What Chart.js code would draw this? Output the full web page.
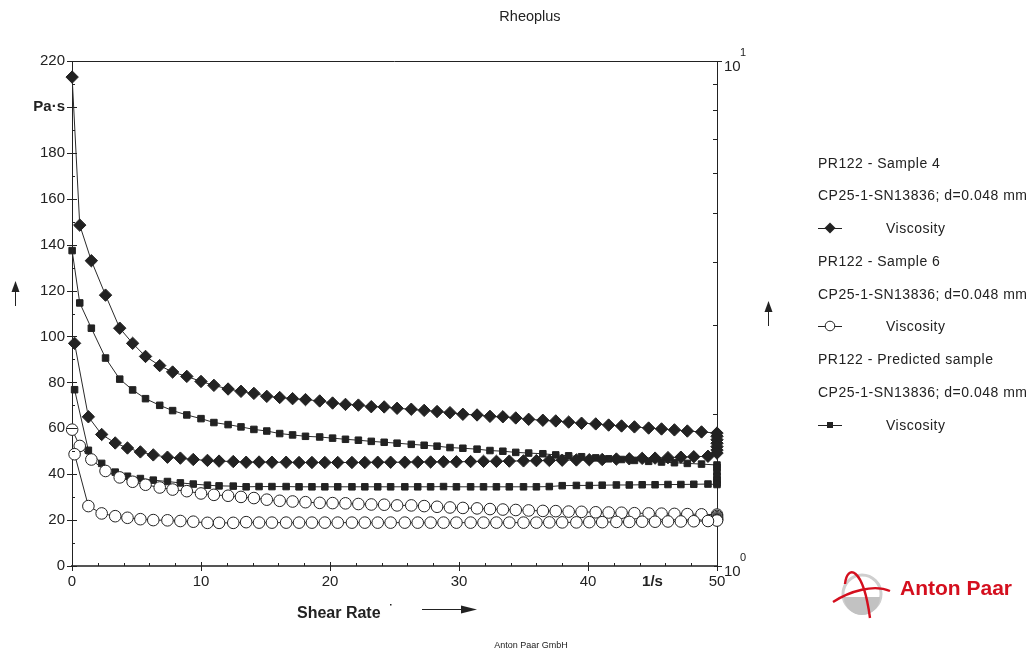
<!DOCTYPE html>
<html><head><meta charset="utf-8">
<script src="https://cdn.jsdelivr.net/npm/chart.js@4.4.1/dist/chart.umd.min.js"></script>
<style>
html,body{margin:0;padding:0;background:#fff;}
#wrap{position:relative;width:1033px;height:655px;overflow:hidden;font-family:"Liberation Sans",Arial,sans-serif;color:#222;}
#c{position:absolute;left:0;top:0;}
.t{position:absolute;white-space:nowrap;line-height:16px;}
.lg{font-size:14px;letter-spacing:0.5px;left:818px;}
</style></head><body>
<div id="wrap">
<canvas id="c" width="1033" height="655"></canvas>
<div class="t" style="left:480px;width:100px;text-align:center;top:8px;font-size:14.5px">Rheoplus</div>
<div id="legend"></div>
<div class="t" style="left:480px;width:102px;text-align:center;top:640px;font-size:9px;line-height:10px">Anton Paar GmbH</div>
<svg style="position:absolute;left:830px;top:560px" width="66" height="62" viewBox="0 0 66 62">
  <circle cx="32" cy="34" r="19" fill="none" stroke="#cfcfcf" stroke-width="3"/>
  <path d="M14 37 A18 18 0 0 0 50 37 Z" fill="#c2c2c2"/>
  <path d="M3 42 C 20 31, 44 24, 60 31" fill="none" stroke="#d40f1e" stroke-width="2.4"/>
  <path d="M15 24 C 17 4, 33 6, 40 58" fill="none" stroke="#d40f1e" stroke-width="2.4"/>
</svg>
<div class="t" style="left:900px;top:576px;font-size:21px;line-height:24px;font-weight:bold;color:#d40f1e">Anton Paar</div>
</div>
<script>
// ---- data ----
const shearUp = [0.01,0.6,1.5,2.6,3.7,4.7,5.7,6.8,7.8,8.9,
  10.0,11.0,12.1,13.1,14.1,15.1,16.1,17.1,18.1,19.2,
  20.2,21.2,22.2,23.2,24.2,25.2,26.3,27.3,28.3,29.3,
  30.3,31.4,32.4,33.4,34.4,35.4,36.5,37.5,38.5,39.5,
  40.6,41.6,42.6,43.6,44.7,45.7,46.7,47.7,48.8,50.0];
const shearDown = [50,50,50,50,50,50,
  49.3,48.2,47.2,46.2,45.2,44.2,43.2,42.2,41.1,40.1,
  39.1,38.0,37.0,36.0,35.0,33.9,32.9,31.9,30.9,
  29.8,28.8,27.8,26.8,25.8,24.7,23.7,22.7,21.7,20.6,
  19.6,18.6,17.6,16.6,15.5,14.5,13.5,12.5,11.4,10.5,
  9.4,8.4,7.4,6.3,5.3,4.3,3.35,2.3,1.27,0.2];

const sample4Up = [213,148.5,133,118,103.6,97,91.3,87.3,84.5,82.6,
  80.4,78.7,77.1,76.1,75.2,73.9,73.4,72.9,72.5,71.9,
  71.0,70.4,70.1,69.4,69.3,68.7,68.3,67.8,67.3,66.8,
  66.1,65.8,65.2,65.0,64.5,63.9,63.5,63.2,62.7,62.2,
  61.9,61.4,61.0,60.6,60.1,59.7,59.3,58.8,58.4,57.9];
const sample4Down = [56.5,55,53.5,52,50.5,49.2,
  47.8,47.6,47.4,47.2,47.0,46.9,46.7,46.6,46.4,46.3,
  46.2,46.1,46.0,45.9,45.8,45.7,45.6,45.6,45.5,
  45.4,45.4,45.3,45.3,45.2,45.2,45.2,45.1,45.1,45.1,
  45.1,45.1,45.1,45.2,45.2,45.3,45.2,45.5,45.7,46.0,
  46.4,47.0,47.4,48.4,49.7,51.4,53.6,57.3,65.0,97.0];

const sample6Up = [59.4,52.3,46.4,41.4,38.6,36.7,35.4,34.2,33.3,32.6,
  31.6,31.0,30.6,30.1,29.6,28.9,28.4,28.1,27.8,27.5,
  27.4,27.3,27.0,26.8,26.7,26.4,26.4,26.1,25.8,25.5,
  25.3,25.1,24.8,24.6,24.4,24.2,24.0,23.9,23.7,23.6,
  23.4,23.3,23.2,23.0,22.9,22.8,22.7,22.6,22.5,22.4];
const sample6Down = [21.8,21.2,20.7,20.3,20.0,19.8,
  19.6,19.5,19.4,19.4,19.3,19.3,19.2,19.2,19.1,19.1,
  19.0,19.0,19.0,18.9,18.9,18.9,18.9,18.9,18.9,
  18.9,18.9,18.9,18.9,18.9,18.9,18.9,18.9,18.9,18.9,
  18.9,18.9,18.9,18.9,18.9,18.9,19.1,18.8,18.8,18.8,
  19.3,19.6,19.9,20.0,20.4,21.0,21.7,22.9,26.1,48.7];

const predictedUp = [137.4,114.6,103.6,90.6,81.4,76.7,72.9,70.0,67.7,65.8,
  64.2,62.5,61.6,60.6,59.5,58.8,57.7,57.1,56.5,56.2,
  55.7,55.2,54.8,54.3,53.9,53.5,53.0,52.6,52.2,51.6,
  51.3,50.9,50.3,50.0,49.5,49.2,48.9,48.4,48.0,47.6,
  47.1,46.7,46.4,46.0,45.6,45.3,45.0,44.7,44.4,44.0];
const predictedDown = [43,41,39,37.5,36.2,35.5,
  35.7,35.6,35.5,35.5,35.4,35.4,35.3,35.3,35.2,35.1,
  35.1,35.0,34.6,34.5,34.5,34.5,34.5,34.5,34.5,
  34.5,34.6,34.5,34.5,34.5,34.5,34.5,34.5,34.5,34.5,
  34.5,34.5,34.5,34.6,34.6,34.6,34.5,34.8,34.9,35.2,
  35.7,36.2,36.8,37.4,38.1,39.1,40.9,44.7,50.4,76.8];

const xTicks = [0,10,20,30,40,45,50];
const xMinorTicks = [2,4,6,8,12,14,16,18,22,24,26,28,32,34,36,38,42,44,46,48];
const yTicks = [0,20,40,60,80,100,120,140,160,180,200,220];
const yMinorTicks = [10,30,50,70,90,110,130,150,170,190,210];
const y2Major = [1,10];
const y2Minor = [2,3,4,5,6,7,8,9];

const legendRows = [
  ['PR122 - Sample 4', null], ['CP25-1-SN13836; d=0.048 mm', null], ['Viscosity', 'diamond'],
  ['PR122 - Sample 6', null], ['CP25-1-SN13836; d=0.048 mm', null], ['Viscosity', 'circle'],
  ['PR122 - Predicted sample', null], ['CP25-1-SN13836; d=0.048 mm', null], ['Viscosity', 'square']
];
const legendY = [163,195,228,261,294,326,359,392,425];

// ---- legend (HTML) ----
const lg = document.getElementById('legend');
legendRows.forEach((r, i) => {
  const cy = legendY[i];
  if (r[1]) {
    let mk = '';
    if (r[1] === 'diamond') mk = '<polygon points="12,1.5 17.5,7 12,12.5 6.5,7" fill="#222"/>';
    if (r[1] === 'circle') mk = '<circle cx="12" cy="7" r="4.8" fill="#fff" stroke="#222" stroke-width="1"/>';
    if (r[1] === 'square') mk = '<rect x="9" y="4" width="6" height="6" fill="#222"/>';
    lg.insertAdjacentHTML('beforeend',
      `<svg style="position:absolute;left:818px;top:${cy-7}px" width="26" height="14"><line x1="0" y1="7.5" x2="24" y2="7.5" stroke="#222" stroke-width="1"/>${mk}</svg>` +
      `<div class="t lg" style="left:886px;top:${cy-8}px">${r[0]}</div>`);
  } else {
    lg.insertAdjacentHTML('beforeend', `<div class="t lg" style="top:${cy-8}px">${r[0]}</div>`);
  }
});

function pts(xs, ys) { return xs.map((x, i) => ({x: x, y: ys[i]})); }

const FONT = '"Liberation Sans", Arial, sans-serif';

const deco = {
  id: 'deco',
  afterDraw(chart) {
    const {ctx, chartArea: a, scales} = chart;
    const x = scales.x, y = scales.y, y2 = scales.y2;
    ctx.save();
    ctx.strokeStyle = '#222'; ctx.lineWidth = 1;
    ctx.beginPath();
    ctx.moveTo(a.left, a.top + 0.5); ctx.lineTo(a.right, a.top + 0.5);
    yTicks.forEach(v => { const p = Math.round(y.getPixelForValue(v)) + 0.5; ctx.moveTo(a.left - 5, p); ctx.lineTo(a.left + 5, p); });
    yMinorTicks.forEach(v => { const p = Math.round(y.getPixelForValue(v)) + 0.5; ctx.moveTo(a.left, p); ctx.lineTo(a.left + 3, p); });
    [0,10,20,30,40,50].forEach(v => { const p = Math.round(x.getPixelForValue(v)) + 0.5; ctx.moveTo(p, a.bottom - 4); ctx.lineTo(p, a.bottom + 5); });
    xMinorTicks.forEach(v => { const p = Math.round(x.getPixelForValue(v)) + 0.5; ctx.moveTo(p, a.bottom - 3); ctx.lineTo(p, a.bottom); });
    y2Major.forEach(v => { const p = Math.round(y2.getPixelForValue(v)) + 0.5; ctx.moveTo(a.right - 3, p); ctx.lineTo(a.right + 5, p); });
    y2Minor.forEach(v => { const p = Math.round(y2.getPixelForValue(v)) + 0.5; ctx.moveTo(a.right - 4, p); ctx.lineTo(a.right, p); });
    ctx.stroke();

    // right log axis labels
    ctx.fillStyle = '#222';
    ctx.textAlign = 'left'; ctx.textBaseline = 'middle';
    y2Major.forEach(v => {
      const p = y2.getPixelForValue(v);
      ctx.font = '15px ' + FONT;
      ctx.fillText('10', a.right + 7, p + 6);
      ctx.font = '11px ' + FONT;
      ctx.fillText(String(Math.round(Math.log10(v))), a.right + 23, p - 8);
    });

    // x axis title + arrow
    ctx.font = 'bold 16px ' + FONT;
    ctx.fillText('Shear Rate', 297, 614);
    ctx.fillRect(390, 604, 1.5, 1.5);
    ctx.beginPath();
    ctx.moveTo(422, 609.5); ctx.lineTo(463, 609.5); ctx.stroke();
    ctx.beginPath();
    ctx.moveTo(461, 605.5); ctx.lineTo(477, 609.5); ctx.lineTo(461, 613.5); ctx.closePath(); ctx.fill();

    // vertical arrows
    [[15.5, 306, 281], [768.5, 326, 301]].forEach(([ax, y0, y1]) => {
      ctx.beginPath(); ctx.moveTo(ax, y0); ctx.lineTo(ax, y1 + 8); ctx.stroke();
      ctx.beginPath(); ctx.moveTo(ax - 4, y1 + 11); ctx.lineTo(ax, y1); ctx.lineTo(ax + 4, y1 + 11); ctx.closePath(); ctx.fill();
    });
    ctx.restore();
  }
};

const lineCol = '#2a2a2a';
new Chart(document.getElementById('c'), {
  type: 'scatter',
  data: {
    datasets: [
      { label: 'PR122 - Sample 6', data: pts(shearUp, sample6Up).concat(pts(shearDown, sample6Down)),
        showLine: true, borderColor: lineCol, borderWidth: 1, tension: 0,
        pointStyle: 'circle', pointRadius: 5.8, pointBackgroundColor: '#fff', pointBorderColor: '#222', pointBorderWidth: 1,
        clip: false, order: 0 },
      { label: 'PR122 - Sample 4', data: pts(shearUp, sample4Up).concat(pts(shearDown, sample4Down)),
        showLine: true, borderColor: lineCol, borderWidth: 1, tension: 0,
        pointStyle: 'rectRot', pointRadius: 6.2, pointBackgroundColor: '#222', pointBorderColor: '#222', pointBorderWidth: 1,
        clip: false, order: 1 },
      { label: 'PR122 - Predicted sample', data: pts(shearUp, predictedUp).concat(pts(shearDown, predictedDown)),
        showLine: true, borderColor: lineCol, borderWidth: 1, tension: 0,
        pointStyle: 'rect', pointRadius: 4.6, pointBackgroundColor: '#222', pointBorderColor: '#222', pointBorderWidth: 1,
        clip: false, order: 2 }
    ]
  },
  options: {
    responsive: false, animation: false, devicePixelRatio: 1,
    layout: { padding: { left: 0, right: 296, top: 61, bottom: 59 } },
    plugins: { legend: { display: false }, tooltip: { enabled: false } },
    scales: {
      x: {
        type: 'linear', min: 0, max: 50,
        afterBuildTicks: s => { s.ticks = xTicks.map(v => ({ value: v })); },
        afterFit: s => { s.height = 30; },
        ticks: {
          autoSkip: false, maxRotation: 0, padding: 7, color: '#222',
          callback: v => (v === 45 ? '1/s' : String(v)),
          font: c => ({ family: FONT, size: 15, weight: (c.tick && c.tick.value === 45) ? 'bold' : 'normal' })
        },
        grid: { display: false, drawTicks: false },
        border: { display: true, color: '#555', width: 2 }
      },
      y: {
        type: 'linear', position: 'left', min: 0, max: 220,
        afterBuildTicks: s => { s.ticks = yTicks.map(v => ({ value: v })); },
        afterFit: s => { s.width = 72; },
        ticks: {
          autoSkip: false, padding: 7, color: '#222',
          callback: v => (v === 200 ? 'Pa·s' : String(v)),
          font: c => ({ family: FONT, size: 15, weight: (c.tick && c.tick.value === 200) ? 'bold' : 'normal' })
        },
        grid: { display: false, drawTicks: false },
        border: { display: true, color: '#222', width: 1 }
      },
      y2: {
        type: 'logarithmic', position: 'right', min: 1, max: 10,
        afterFit: s => { s.width = 20; },
        ticks: { display: false },
        grid: { display: false, drawTicks: false },
        border: { display: true, color: '#222', width: 1 }
      }
    }
  },
  plugins: [deco]
});
</script>
</body></html>
